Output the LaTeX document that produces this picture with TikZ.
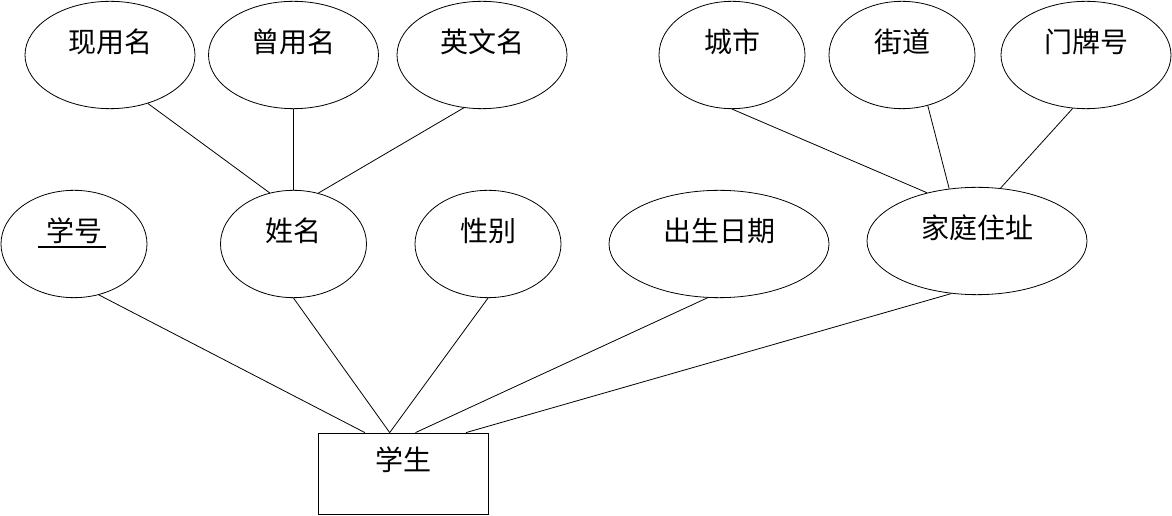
\documentclass[tikz,border=0pt]{standalone}
\usepackage{fontspec}
\setmainfont{Noto Sans CJK SC}
\usetikzlibrary{shapes.geometric}

\begin{document}
\begin{tikzpicture}[x=0.75pt, y=-0.75pt,
    attr/.style={ellipse, draw, line width=0.6pt, inner sep=0pt,
      minimum width=#1, minimum height=80.5pt,
      text height=16pt, text depth=20pt, font=\fontsize{21}{25}\selectfont},
    attr/.default=109.5pt,
    entity/.style={rectangle, draw, line width=0.6pt, inner sep=0pt,
      minimum width=127.5pt, minimum height=60.75pt,
      text height=16pt, text depth=20pt, font=\fontsize{21}{25}\selectfont},
    link/.style={line width=0.6pt}]
  \useasboundingbox (0,0) rectangle (1172,516);

  % entity
  \node[entity] (xs) at (403,473.5) {学生};

  % attributes of the entity
  \node[attr] (xh) at (74,244) {\makebox[0pt][l]{\hspace{-6pt}\rule[-5pt]{51pt}{1.4pt}}学号};
  \node[attr] (xm) at (293.5,244) {姓名};
  \node[attr] (xb) at (488,244) {性别};
  \node[attr=165pt] (csrq) at (719,244) {出生日期};
  \node[attr=165pt] (jtzz) at (977,241) {家庭住址};

  % parts of the name
  \node[attr=127.5pt] (xym) at (110,55) {现用名};
  \node[attr=127.5pt] (cym) at (293.5,55) {曾用名};
  \node[attr=127.5pt] (ywm) at (482,55) {英文名};

  % parts of the address
  \node[attr] (cs) at (732,55) {城市};
  \node[attr] (jd) at (902,55) {街道};
  \node[attr=127.5pt] (mph) at (1086,55) {门牌号};

  % links
  \draw[link] (xh.-64) -- (xs.133.5);
  \draw[link] (xm.south) -- (xs.108);
  \draw[link] (xb.south) -- (xs.108);
  \draw[link] (csrq.258) -- (xs.73.3);
  \draw[link] (jtzz.-116) -- (xs.33.3);

  \draw[link] (xym.-52) -- (xm.115);
  \draw[link] (cym.south) -- (xm.north);
  \draw[link] (ywm.-109) -- (xm.64);

  \draw[link] (cs.south) -- (jtzz.136.5);
  \draw[link] (jd.-63) -- (jtzz.118);
  \draw[link] (mph.-104) -- (jtzz.66.5);
\end{tikzpicture}
\end{document}
